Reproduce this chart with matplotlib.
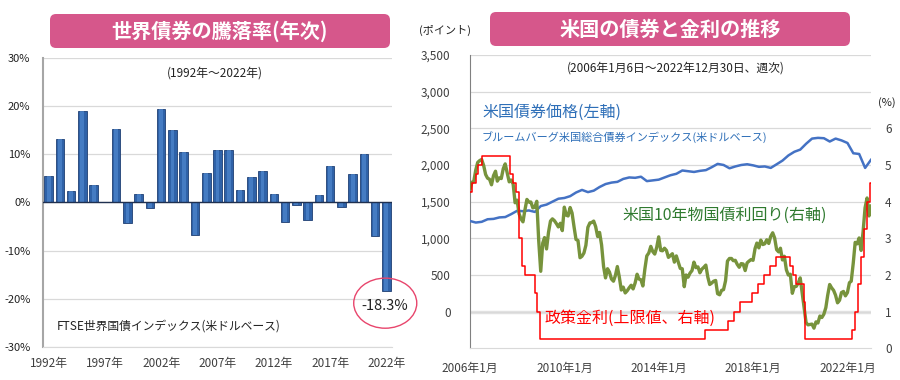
#world bond returns (bar) and US bonds / rates (lines)
import matplotlib.pyplot as plt
import matplotlib.patches as mpatches
import matplotlib.transforms as mtrans
import pandas as pd

plt.rcParams['font.family'] = ['Noto Sans CJK JP', 'DejaVu Sans']

# ---- left chart data: FTSE WGBI annual return (%)
years = list(range(1992, 2023))
returns = [5.6, 13.2, 2.3, 19.0, 3.6, 0.2, 15.3, -4.3, 1.7, -1.2,
           19.5, 15.0, 10.4, -6.8, 6.1, 11.0, 10.9, 2.5, 5.2, 6.5,
           1.7, -4.1, -0.6, -3.6, 1.6, 7.5, -0.9, 5.9, 10.1, -7.0, -18.3]
year_labels = ["1992年", "1997年", "2002年", "2007年", "2012年", "2017年", "2022年"]

# ---- right chart data
# bond index (points, left axis)
idx_dates = ["2006-01-06", "2006-04-01", "2006-07-01", "2006-10-01", "2007-01-01", "2007-04-01",
             "2007-07-01", "2007-10-01", "2008-01-01", "2008-04-01", "2008-07-01", "2008-10-01",
             "2009-01-01", "2009-04-01", "2009-07-01", "2009-10-01", "2010-01-01", "2010-04-01",
             "2010-07-01", "2010-10-01", "2011-01-01", "2011-04-01", "2011-07-01", "2011-10-01",
             "2012-01-01", "2012-04-01", "2012-07-01", "2012-10-01", "2013-01-01", "2013-04-01",
             "2013-07-01", "2013-10-01", "2014-01-01", "2014-04-01", "2014-07-01", "2014-10-01",
             "2015-01-01", "2015-04-01", "2015-07-01", "2015-10-01", "2016-01-01", "2016-04-01",
             "2016-07-01", "2016-10-01", "2017-01-01", "2017-04-01", "2017-07-01", "2017-10-01",
             "2018-01-01", "2018-04-01", "2018-07-01", "2018-10-01", "2019-01-01", "2019-04-01",
             "2019-07-01", "2019-10-01", "2020-01-01", "2020-04-01", "2020-07-01", "2020-10-01",
             "2021-01-01", "2021-04-01", "2021-07-01", "2021-10-01", "2022-01-01", "2022-04-01",
             "2022-07-01", "2022-10-01", "2022-12-30"]
idx_vals = [1235, 1215, 1225, 1260, 1265, 1285, 1290, 1330, 1375, 1370, 1380, 1360,
            1440, 1460, 1500, 1540, 1550, 1575, 1625, 1660, 1630, 1650, 1700, 1740,
            1760, 1770, 1810, 1830, 1825, 1840, 1780, 1790, 1800, 1830, 1860, 1880,
            1925, 1915, 1905, 1920, 1930, 1970, 2015, 2000, 1955, 1980, 2000, 2010,
            1995, 1975, 1980, 1960, 2010, 2060, 2130, 2180, 2210, 2290, 2360, 2370,
            2365, 2320, 2360, 2335, 2300, 2160, 2150, 1960, 2070]

# US 10y yield (%, right axis), first week then month ends
yld_vals = [4.37,
            4.53, 4.55, 4.86, 5.07, 5.12, 5.15, 4.99, 4.74, 4.64, 4.61, 4.46, 4.71,
            4.83, 4.56, 4.65, 4.63, 4.90, 5.03, 4.78, 4.54, 4.59, 4.48, 3.97, 4.04,
            3.67, 3.53, 3.45, 3.77, 4.06, 3.99, 3.99, 3.83, 3.85, 4.01, 2.93, 2.10,
            2.87, 3.02, 2.71, 3.16, 3.47, 3.53, 3.48, 3.40, 3.31, 3.41, 3.21, 3.85,
            3.63, 3.61, 3.84, 3.69, 3.31, 2.97, 2.94, 2.47, 2.51, 2.60, 2.81, 3.30,
            3.42, 3.43, 3.47, 3.32, 3.05, 3.16, 2.82, 2.23, 1.92, 2.17, 2.08, 1.89,
            1.83, 1.98, 2.23, 1.95, 1.59, 1.67, 1.51, 1.57, 1.65, 1.72, 1.62, 1.78,
            2.02, 1.89, 1.87, 1.70, 2.16, 2.52, 2.60, 2.78, 2.64, 2.57, 2.75, 3.04,
            2.67, 2.66, 2.73, 2.67, 2.48, 2.53, 2.58, 2.35, 2.52, 2.35, 2.18, 2.17,
            1.68, 2.00, 1.94, 2.05, 2.12, 2.35, 2.20, 2.22, 2.06, 2.16, 2.21, 2.27,
            1.94, 1.74, 1.78, 1.83, 1.85, 1.49, 1.46, 1.58, 1.60, 1.84, 2.38, 2.45,
            2.45, 2.39, 2.40, 2.29, 2.21, 2.31, 2.30, 2.12, 2.33, 2.38, 2.42, 2.40,
            2.72, 2.87, 2.74, 2.95, 2.83, 2.85, 2.96, 2.86, 3.05, 3.15, 3.01, 2.69,
            2.63, 2.73, 2.41, 2.51, 2.14, 2.00, 2.02, 1.50, 1.68, 1.69, 1.78, 1.92,
            1.51, 1.13, 0.70, 0.64, 0.65, 0.66, 0.55, 0.72, 0.69, 0.88, 0.84, 0.93,
            1.11, 1.44, 1.74, 1.65, 1.58, 1.45, 1.24, 1.31, 1.52, 1.55, 1.43, 1.52,
            1.79, 1.83, 2.32, 2.89, 2.85, 3.01, 2.67, 3.19, 3.83, 4.10, 3.61, 3.88]
yld_dates = [pd.Timestamp("2006-01-06")] + list(pd.date_range("2006-01-31", "2022-12-31", freq="ME"))

# policy rate upper bound (%, right axis)
ff_dates = ["2006-01-06", "2006-01-31", "2006-03-28", "2006-05-10", "2006-06-29", "2007-09-18",
            "2007-10-31", "2007-12-11", "2008-01-22", "2008-01-30", "2008-03-18", "2008-04-30",
            "2008-10-08", "2008-10-29", "2008-12-16", "2015-12-16", "2016-12-14", "2017-03-15",
            "2017-06-14", "2017-12-13", "2018-03-21", "2018-06-13", "2018-09-26", "2018-12-19",
            "2019-07-31", "2019-09-18", "2019-10-30", "2020-03-03", "2020-03-15", "2022-03-16",
            "2022-05-04", "2022-06-15", "2022-07-27", "2022-09-21", "2022-11-02", "2022-12-14",
            "2022-12-30"]
ff_vals = [4.25, 4.50, 4.75, 5.00, 5.25, 4.75, 4.50, 4.25, 3.50, 3.00, 2.25, 2.00,
           1.50, 1.00, 0.25, 0.50, 0.75, 1.00, 1.25, 1.50, 1.75, 2.00, 2.25, 2.50,
           2.25, 2.00, 1.75, 1.25, 0.25, 0.50, 1.00, 1.75, 2.50, 3.25, 4.00, 4.50, 4.50]

date_ticks = ["2006-01-01", "2010-01-01", "2014-01-01", "2018-01-01", "2022-01-01"]
date_labels = ["2006年1月", "2010年1月", "2014年1月", "2018年1月", "2022年1月"]

pink = "#d6578b"
txt = "#404040"

fig = plt.figure(figsize=(9, 3.8), dpi=100)

def fx(x):
    return x / 900

def fy(y):
    return 1 - y / 380

# title banners (pixel coords)
for x0, x1, y0, y1, title in [(50, 390, 14, 48, "世界債券の騰落率(年次)"),
                              (490, 850, 12, 46, "米国の債券と金利の推移")]:
    box = mpatches.FancyBboxPatch((x0, 380 - y1), x1 - x0, y1 - y0,
                                  boxstyle="round,pad=0,rounding_size=6",
                                  fc=pink, ec="none", transform=mtrans.IdentityTransform())
    fig.patches.append(box)
    fig.text(fx((x0 + x1) / 2), fy((y0 + y1) / 2), title, color="white", fontsize=14.5,
             fontweight="bold", ha="center", va="center")

# ---------------- left chart
ax = fig.add_axes([fx(43), 33 / 380, 349 / 900, 289 / 380])
xs = list(range(len(years)))
ax.bar(xs, returns, width=0.76, color="#2f62a8", edgecolor="#1f3f73", linewidth=0.6, zorder=3)
# lighter middle stripe for the rounded look
ax.bar(xs, returns, width=0.34, color="#4f88cf", linewidth=0, alpha=0.7, zorder=3.5)
ax.axhline(0, color="#1f3050", lw=1.0, zorder=4)
ax.set_xlim(-0.5, len(years) - 0.5)
ax.set_ylim(-30, 30)
ax.set_yticks(range(-30, 31, 10))
ax.set_yticklabels([f"{v}%" for v in range(-30, 31, 10)], fontsize=8, color="#222222")
ax.set_xticks(range(0, len(years), 5))
ax.set_xticklabels(year_labels, fontsize=8.5, color=txt)
ax.tick_params(length=0)
ax.tick_params(axis="y", pad=9)
ax.tick_params(axis="x", pad=7)
ax.grid(axis="y", color="#d9d9d9", lw=0.9, zorder=0)
for s in ["top", "right"]:
    ax.spines[s].set_visible(False)
ax.spines["left"].set_color("#a6a6a6")
ax.spines["left"].set_linewidth(1.5)
ax.spines["bottom"].set_color("#d9d9d9")
ax.text(14.8, 26.9, "(1992年～2022年)", fontsize=8.5, ha="center", va="center", color="#222222")
ax.text(0.75, -25.6, "FTSE世界国債インデックス(米ドルベース)", fontsize=8.5, ha="left",
        va="center", color="#222222")
ax.add_patch(mpatches.Ellipse((29.9, -20.9), 5.6, 10.4, fill=False, ec="#e8456c", lw=1.0,
                              zorder=5, clip_on=False))
ax.text(29.9, -21.4, "-18.3%", fontsize=10.5, ha="center", va="center", color="#222222", zorder=6)

# ---------------- right chart
ax2 = fig.add_axes([fx(470), 31.7 / 380, 401 / 900, 293.3 / 380])
ax2.plot(pd.to_datetime(idx_dates), idx_vals, color="#4472c4", lw=1.8, zorder=3)
ax2.set_ylim(-500, 3500)
ax2.set_yticks(range(0, 3501, 500))
ax2.set_yticklabels([f"{v:,}" for v in range(0, 3501, 500)], fontsize=8.5, color=txt)
ax2.grid(axis="y", color="#d9d9d9", lw=0.9, zorder=0)
ax2.axhline(0, color="#e3e3e3", lw=2.5, zorder=1)
ax2.set_xlim(pd.Timestamp("2006-01-01"), pd.Timestamp("2022-12-31"))
ax2.set_xticks(pd.to_datetime(date_ticks))
ax2.set_xticklabels(date_labels, fontsize=8.5, color=txt)
ax2.tick_params(length=0)
ax2.tick_params(axis="y", pad=14)
ax2.tick_params(axis="x", pad=10)
for s in ["top", "right"]:
    ax2.spines[s].set_visible(False)
ax2.spines["left"].set_color("#808080")
ax2.spines["bottom"].set_color("#d9d9d9")

ax3 = ax2.twinx()
ax3.plot(yld_dates, yld_vals, color="#77933c", lw=2.4, zorder=3)
ax3.step(pd.to_datetime(ff_dates), ff_vals, where="post", color="#ff0000", lw=1.1, zorder=4)
ax3.set_ylim(0, 8)
ax3.set_yticks(range(0, 7))
ax3.set_yticklabels([str(v) for v in range(0, 7)], fontsize=8.5, color=txt)
ax3.tick_params(length=0, pad=10)
for s in ax3.spines.values():
    s.set_visible(False)

fig.text(fx(445), fy(30), "(ポイント)", fontsize=8, ha="center", va="center", color="#222222")
fig.text(fx(887), fy(103), "(%)", fontsize=8, ha="center", va="center", color="#222222")
fig.text(fx(676), fy(68), "(2006年1月6日～2022年12月30日、週次)", fontsize=8.5, ha="center",
         va="center", color="#222222")
fig.text(fx(482), fy(112), "米国債券価格(左軸)", fontsize=11.5, ha="left", va="center",
         color="#2e6fb8")
fig.text(fx(482), fy(137), "ブルームバーグ米国総合債券インデックス(米ドルベース)", fontsize=8,
         ha="left", va="center", color="#2e6fb8")
fig.text(fx(622), fy(215), "米国10年物国債利回り(右軸)", fontsize=11.5, ha="left", va="center",
         color="#2f7a2f")
fig.text(fx(545), fy(318), "政策金利(上限値、右軸)", fontsize=11.5, ha="left", va="center",
         color="#ff0000")

fig.savefig("out.png", dpi=100)
